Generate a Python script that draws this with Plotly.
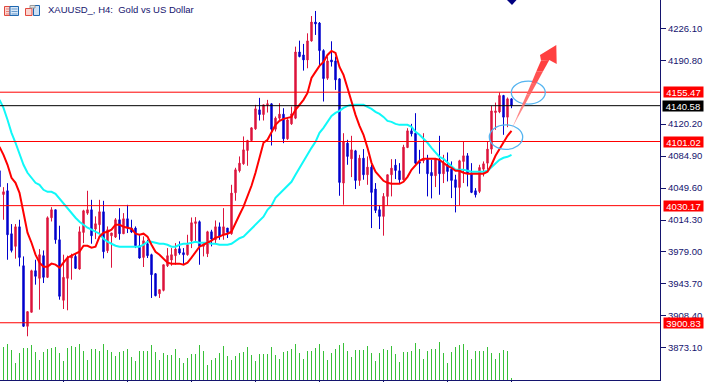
import plotly.graph_objects as go

bars = list(range(-1, 128))
opens = [4068.7,
 4042.5,4046.6,3999.1,3985.2,4006.8,3963.8,3896.9,3912.4,3958.3,3949.9,
 3974.9,3951.0,4016.8,4025.6,3992.5,3925.6,3949.9,3972.3,3974.1,3960.2,
 4000.6,4021.9,4025.6,4004.3,4009.1,4023.4,3980.4,3996.9,3995.5,4014.6,
 3999.1,4015.7,4005.4,4005.4,3985.9,3973.0,3988.1,3976.0,3955.0,3932.9,
 3936.6,3963.8,3970.1,3974.9,3982.6,3978.2,3976.0,3991.4,4010.5,4012.4,
 3985.2,3977.1,4001.3,3992.5,4006.8,3998.0,4005.4,3999.1,4044.4,4068.7,
 4076.4,4091.1,4102.1,4115.0,4136.0,4130.8,4141.5,4142.6,4114.6,4126.8,
 4131.2,4104.0,4120.5,4126.8,4199.9,4196.6,4191.1,4212.1,4233.0,4231.9,
 4201.4,4170.9,4191.1,4190.0,4170.2,4055.1,4099.2,4081.9,4090.7,4058.0,
 4082.6,4064.3,4072.7,4048.5,4025.7,4018.3,4040.4,4064.3,4074.9,4068.7,
 4058.8,4094.4,4112.8,4110.2,4078.6,4079.7,4081.5,4066.8,4063.2,4080.8,
 4065.4,4075.3,4070.5,4058.8,4050.3,4079.0,4085.2,4066.1,4046.6,4045.9,
 4070.5,4077.1,4092.6,4133.0,4133.7,4151.8,4127.9,4148.1]
closes = [4051.0,
 4045.5,3998.0,3980.7,4006.8,3973.0,3896.9,3913.1,3958.3,3952.1,3976.0,
 3951.0,4016.8,4025.6,3992.5,3930.0,3951.0,3972.3,3974.9,3960.9,4001.3,
 4024.5,4025.6,3996.9,4010.2,4023.4,3979.3,4003.5,4000.0,4014.6,3999.1,
 4015.7,4005.4,4001.0,3985.9,3972.3,3991.4,3974.9,3953.9,3930.7,3937.4,
 3964.9,3974.9,3976.0,3982.2,3977.8,3976.0,3987.0,4011.3,4012.4,3985.2,
 3986.6,4001.3,3993.2,4006.8,3996.2,4006.8,4000.6,4044.0,4069.8,4077.1,
 4091.8,4102.1,4116.1,4137.1,4130.8,4141.5,4142.6,4114.6,4126.8,4131.2,
 4104.0,4124.9,4131.5,4199.9,4194.8,4191.1,4212.1,4233.0,4230.8,4201.4,
 4170.5,4190.0,4188.9,4169.1,4055.8,4101.0,4084.5,4091.8,4058.0,4082.6,
 4064.3,4072.7,4044.8,4024.9,4018.3,4040.4,4064.3,4071.6,4069.0,4058.8,
 4094.8,4112.8,4109.5,4077.1,4077.1,4080.8,4065.4,4063.2,4081.5,4065.4,
 4077.1,4067.9,4058.0,4050.3,4079.7,4085.2,4066.1,4044.8,4042.2,4072.3,
 4076.4,4092.6,4134.8,4134.8,4151.8,4127.9,4148.1,4140.58]
highs = [4075.0,
 4050.6,4055.0,4009.8,4009.8,4014.6,3974.1,3913.5,3959.4,3970.4,3982.2,
 3980.7,4018.3,4028.5,4025.6,4008.0,3976.0,3974.9,3977.1,3977.1,4007.2,
 4025.6,4046.6,4036.6,4018.3,4036.6,4035.5,4007.2,4000.0,4016.4,4027.4,
 4021.9,4031.1,4014.6,4007.2,3998.0,3996.2,3992.5,3977.1,3955.7,3937.4,
 3964.9,3983.3,3983.3,3988.8,3990.7,3983.3,3998.0,4017.1,4017.5,4013.8,
 3988.8,4002.4,4003.5,4013.8,4011.6,4027.4,4005.4,4053.2,4072.0,4084.5,
 4106.6,4102.9,4116.8,4141.5,4149.2,4141.5,4147.0,4143.3,4128.6,4143.3,
 4137.8,4126.8,4139.6,4205.8,4212.4,4208.8,4220.5,4239.6,4245.2,4233.0,
 4202.9,4194.8,4211.7,4194.8,4170.9,4110.2,4102.9,4107.3,4091.8,4086.3,
 4092.6,4084.5,4075.3,4055.1,4030.1,4044.0,4064.3,4081.5,4081.5,4077.1,
 4097.4,4115.7,4120.5,4132.3,4091.8,4110.2,4086.3,4080.8,4082.6,4107.3,
 4086.3,4088.9,4079.0,4064.3,4080.8,4101.0,4088.2,4077.1,4049.5,4075.3,
 4079.0,4101.0,4140.4,4144.0,4155.1,4152.5,4149.6,4148.8]
lows = [4045.0,
 4014.6,3970.4,3978.5,3971.6,3963.1,3896.2,3885.9,3912.4,3942.9,3915.3,
 3944.7,3950.2,4012.7,3988.1,3926.3,3916.0,3914.6,3948.4,3960.2,3959.4,
 3988.8,4020.0,3988.1,3993.2,3999.1,3971.9,3977.8,3961.6,3994.4,3992.5,
 3999.1,3999.9,3999.9,3983.3,3971.6,3962.4,3972.3,3928.2,3930.0,3928.2,
 3935.5,3962.4,3963.8,3964.9,3976.0,3965.7,3974.9,3983.3,3990.7,3964.9,
 3974.1,3973.4,3985.2,3988.8,3992.5,3992.5,3994.4,3998.0,4035.6,4066.8,
 4075.3,4074.2,4101.0,4113.9,4124.2,4124.2,4133.0,4096.6,4112.1,4124.9,
 4099.2,4102.9,4119.4,4125.7,4194.0,4179.3,4181.9,4211.3,4218.7,4183.8,
 4145.2,4169.1,4183.8,4158.0,4041.1,4031.2,4075.3,4061.7,4048.5,4052.1,
 4058.8,4053.2,4005.4,4022.0,4004.3,3997.0,4030.1,4040.4,4059.5,4055.1,
 4058.0,4093.7,4106.6,4076.0,4065.4,4077.1,4040.4,4038.2,4050.7,4042.2,
 4055.1,4056.9,4038.5,4022.7,4030.1,4055.1,4051.4,4044.0,4039.2,4044.0,
 4062.4,4067.9,4087.4,4113.9,4132.3,4108.4,4116.8,4137.8]
ma_fast = [4095.1,
 4086.3,4075.3,4060.9,4055.4,4044.4,4022.3,4000.3,3989.2,3976.0,3967.2,
 3962.8,3962.8,3966.1,3965.0,3961.7,3967.2,3972.7,3974.9,3977.1,3979.3,
 3985.9,3985.9,3983.7,3984.8,3995.9,4000.3,4001.4,4003.6,4009.1,4009.1,
 4006.9,4005.8,4004.7,3999.2,3998.1,3999.2,3995.9,3987.0,3979.3,3976.0,
 3971.6,3967.2,3966.1,3966.1,3966.1,3965.0,3967.2,3972.7,3979.3,3984.8,
 3987.0,3989.2,3991.4,3994.8,3995.9,3998.1,3999.2,4001.4,4011.3,4020.1,
 4029.0,4040.0,4052.1,4066.5,4084.1,4099.6,4102.9,4111.7,4119.4,4123.8,
 4126.0,4127.1,4128.2,4136.0,4141.5,4147.0,4154.7,4171.3,4177.9,4184.5,
 4188.9,4196.6,4201.0,4198.8,4183.4,4174.6,4160.2,4144.8,4130.4,4118.3,
 4108.4,4094.0,4077.5,4067.6,4062.0,4057.6,4055.4,4054.3,4054.3,4054.3,
 4056.5,4062.0,4069.8,4075.3,4079.7,4081.9,4081.9,4081.9,4081.9,4080.8,
 4077.5,4074.2,4072.0,4068.7,4068.7,4066.5,4065.4,4065.4,4065.4,4065.4,
 4065.4,4067.6,4075.3,4085.2,4092.9,4099.6,4107.3,4112.8]
ma_slow = [4147.0,
 4138.2,4125.0,4110.6,4099.6,4086.3,4075.3,4066.5,4060.9,4055.4,4053.2,
 4047.7,4045.5,4045.5,4043.3,4037.8,4032.3,4027.9,4022.3,4016.8,4012.4,
 4009.1,4005.8,4003.6,4001.4,3999.2,3993.7,3990.3,3988.1,3985.9,3984.8,
 3984.8,3984.8,3984.8,3984.8,3984.8,3987.0,3990.3,3990.3,3989.2,3988.1,
 3988.1,3987.0,3984.8,3984.8,3987.0,3988.1,3988.1,3989.2,3990.3,3989.2,
 3989.2,3989.2,3988.1,3988.1,3987.0,3987.0,3987.0,3988.1,3991.0,3994.2,
 3995.9,4000.3,4005.8,4009.1,4013.5,4017.9,4025.6,4030.1,4038.9,4043.3,
 4047.7,4052.1,4056.5,4064.3,4072.0,4078.6,4086.3,4094.0,4100.7,4110.6,
 4116.1,4122.7,4129.3,4132.6,4134.9,4138.2,4140.4,4141.5,4141.5,4141.5,
 4141.5,4139.3,4137.1,4133.8,4131.5,4128.2,4123.8,4122.7,4120.5,4119.4,
 4119.4,4119.4,4117.2,4111.7,4108.4,4104.0,4099.6,4094.0,4088.5,4084.1,
 4081.9,4077.5,4073.1,4069.8,4069.8,4069.8,4068.7,4067.6,4067.6,4067.6,
 4067.6,4068.7,4073.1,4077.5,4080.8,4083.0,4084.1,4086.3]
volumes = [0,
 3270,3600,3000,1730,2700,3200,3230,3500,2800,2000,
 2800,3100,3200,3300,2670,1900,3230,3400,3300,3600,
 2930,2000,3130,3100,2900,3600,3000,2800,2400,2770,
 2900,3130,2330,1900,2900,2900,2930,3500,2770,2000,
 2700,2530,2500,3130,2200,1730,2230,2600,2600,3500,
 2900,1500,2000,2200,2670,3400,2370,2000,2400,2700,
 2800,3300,2500,1900,2600,2600,2600,3300,2500,2100,
 2800,2900,3100,3600,2700,2100,2900,2900,3200,3600,
 2900,2000,2700,3100,3500,3700,2900,2300,3000,3000,
 3000,3400,2700,1900,2700,3100,3000,3400,2600,1800,
 2800,2800,2900,3700,3100,2100,2900,3100,3100,3800,
 2700,1700,2800,3300,3500,3600,3000,2100,2900,2900,
 2900,3300,2700,2100,2700,3000,2900,200]

price_ticks = [4226.10, 4190.80, 4120.20, 4084.90, 4049.60, 4014.30, 3979.00, 3943.70, 3908.40, 3873.10]
time_ticks = list(range(15, 128, 16))
red_levels = [4155.47, 4101.02, 4030.17, 3900.83]
last_price = 4140.58
title_text = "XAUUSD_, H4:\u00a0\u00a0Gold vs US Dollar"

W, H = 711, 382
PW, PH = 660, 380.5
NAVY = "#14146E"
FONT = "Liberation Sans"


def px(x):
    return x / PW


def py(y):
    return 1 - y / PH


def poly(points, fill, line=None, width=0):
    path = "M" + " L".join(f"{px(a):.5f},{py(b):.5f}" for a, b in points) + " Z"
    return dict(type="path", xref="paper", yref="paper", path=path, fillcolor=fill,
                line=dict(color=line or fill, width=width), layer="above")


def rect(x0, y0, x1, y1, fill, line=None, width=1):
    return dict(type="rect", xref="paper", yref="paper", x0=px(x0), x1=px(x1), y0=py(y0), y1=py(y1),
                fillcolor=fill, line=dict(color=line or fill, width=width), layer="above")


def oval(cx, cy, rx, ry):
    return dict(type="circle", xref="paper", yref="paper", x0=px(cx - rx), x1=px(cx + rx),
                y0=py(cy + ry), y1=py(cy - ry), line=dict(color="#55B4F0", width=1.3),
                fillcolor="rgba(0,0,0,0)", layer="above")


fig = go.Figure()
fig.add_trace(go.Bar(x=bars, y=volumes, yaxis="y2", width=0.25,
                     marker=dict(color="#38C038", line=dict(width=0)), showlegend=False))
fig.add_trace(go.Candlestick(
    x=bars, open=opens, high=highs, low=lows, close=closes, whiskerwidth=0,
    increasing=dict(line=dict(color="#DC143C", width=1), fillcolor="#DC143C"),
    decreasing=dict(line=dict(color="#0000CD", width=1), fillcolor="#0000CD"),
    showlegend=False))
fig.add_trace(go.Scatter(x=bars, y=ma_slow, mode="lines", line=dict(color="#10F8F8", width=2), showlegend=False))
fig.add_trace(go.Scatter(x=bars, y=ma_fast, mode="lines", line=dict(color="#FF0000", width=2), showlegend=False))

shapes = []
for lv in red_levels:
    shapes.append(dict(type="line", xref="paper", x0=0, x1=1, yref="y", y0=lv, y1=lv,
                       line=dict(color="#FF0000", width=1), layer="above"))
shapes.append(dict(type="line", xref="paper", x0=0, x1=1, yref="y", y0=last_price, y1=last_price,
                   line=dict(color="#000000", width=1), layer="above"))

# top marker
shapes.append(poly([(507, 0), (516.5, 0), (512, 5)], "#000080"))

# header icons
shapes += [
    rect(4.5, 6.5, 10, 15.5, "#FBD5D0", "#E0473C"),
    rect(10, 6.5, 18.5, 15.5, "#D9E8F7", "#1C66B0"),
]
for yy in (9, 11.5, 14):
    shapes.append(rect(6, yy - 0.3, 9, yy + 0.3, "#E0473C", "#E0473C", 0))
    shapes.append(rect(11.5, yy - 0.3, 17.5, yy + 0.3, "#1C66B0", "#1C66B0", 0))
shapes += [
    rect(25.5, 8.5, 32, 15.5, "#FBD5D0", "#E0473C"),
    rect(33.5, 5.5, 39.5, 15.5, "#CFE2F5", "#1C66B0"),
    rect(30, 5.5, 35, 8, "#E4E4E4", "#9A9A9A"),
]

# ellipses
shapes += [oval(528.3, 92.7, 17, 11.5), oval(506, 137.3, 16.7, 12.3)]

# gradient arrow shaft + head
tail = (512, 128.3)
left = (541, 60.7)
right = (549.3, 60)
N = 6
for i in range(N):
    t0, t1 = i / N, (i + 1) / N
    a = (tail[0] + (left[0] - tail[0]) * t0, tail[1] + (left[1] - tail[1]) * t0)
    b = (tail[0] + (left[0] - tail[0]) * t1, tail[1] + (left[1] - tail[1]) * t1)
    c = (tail[0] + (right[0] - tail[0]) * t1, tail[1] + (right[1] - tail[1]) * t1)
    d = (tail[0] + (right[0] - tail[0]) * t0, tail[1] + (right[1] - tail[1]) * t0)
    g = int(170 - (170 - 64) * (i + 1) / N)
    shapes.append(poly([a, b, c, d], f"rgb(255,{g},{g})"))
shapes.append(poly([(540, 55), (556.3, 45), (556.7, 64), (549.3, 60), (541, 60.7)], "#FF4040"))

annotations = [dict(xref="paper", yref="paper", x=px(46), y=py(10), text=title_text, showarrow=False,
                    xanchor="left", yanchor="middle", font=dict(family=FONT, size=9.5, color=NAVY))]
for lv in red_levels:
    annotations.append(dict(xref="paper", yref="y", x=px(663), y=lv, text=f"{lv:.2f}", showarrow=False,
                            xanchor="left", yanchor="middle", width=39, height=10, borderpad=0, bgcolor="#FF0000",
                            font=dict(family=FONT, size=9.5, color="#FFFFFF")))
annotations.append(dict(xref="paper", yref="y", x=px(662), y=last_price, text=f"{last_price:.2f}", showarrow=False,
                        xanchor="left", yanchor="middle", width=40, height=10, borderpad=0, bgcolor="#000000",
                        font=dict(family=FONT, size=9.5, color="#FFFFFF")))

fig.update_layout(
    width=W, height=H, autosize=False,
    margin=dict(l=0, r=W - PW, t=0, b=H - PH, pad=0),
    paper_bgcolor="#FFFFFF", plot_bgcolor="#FFFFFF",
    boxgap=0.5, bargap=0, showlegend=False,
    shapes=shapes, annotations=annotations,
    xaxis=dict(range=[-0.875, 164.125], showgrid=False, zeroline=False, rangeslider=dict(visible=False),
               tickmode="array", tickvals=time_ticks, ticktext=[""] * len(time_ticks),
               ticks="outside", ticklen=3, tickcolor=NAVY, tickwidth=1,
               showline=True, linecolor=NAVY, linewidth=1),
    yaxis=dict(range=[3837.6, 4257.3], side="right", showgrid=False, zeroline=False,
               tickmode="array", tickvals=price_ticks, ticktext=[f"{v:.2f}" for v in price_ticks],
               ticks="outside", ticklen=5, tickcolor=NAVY, tickwidth=1,
               showline=True, linecolor=NAVY, linewidth=1,
               tickfont=dict(family=FONT, size=9.5, color=NAVY)),
    yaxis2=dict(range=[0, 38050], overlaying="y", side="left", visible=False),
)

fig.write_html("out.html", config=dict(displayModeBar=False),
               post_script="document.body.style.margin='0';document.body.style.overflow='hidden';")
